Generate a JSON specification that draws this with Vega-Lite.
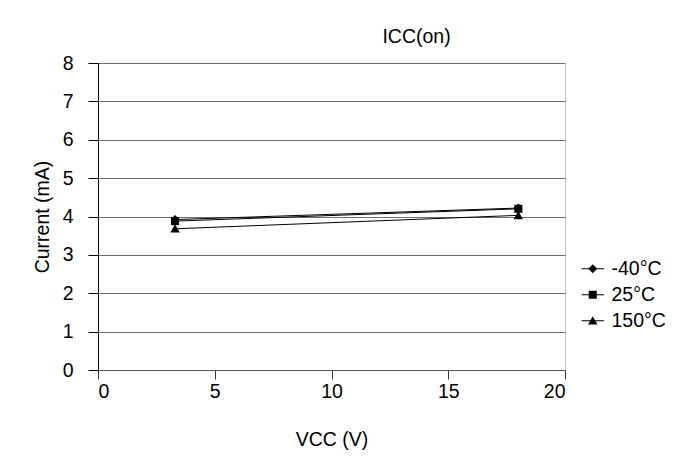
{
  "$schema": "https://vega.github.io/schema/vega-lite/v6.json",
  "width": 467,
  "height": 307,
  "autosize": {"type": "none"},
  "padding": {"left": 98, "top": 63, "right": 124, "bottom": 102},
  "background": "white",
  "title": {
    "text": "ICC(on)",
    "anchor": "middle",
    "dx": 85,
    "offset": 6,
    "fontSize": 19.5,
    "fontWeight": "normal",
    "font": "Liberation Sans",
    "color": "black"
  },
  "data": {
    "values": [
      {"temp": "-40°C", "vcc": 3.3, "current": 3.92},
      {"temp": "-40°C", "vcc": 18, "current": 4.22},
      {"temp": "25°C", "vcc": 3.3, "current": 3.88},
      {"temp": "25°C", "vcc": 18, "current": 4.2},
      {"temp": "150°C", "vcc": 3.3, "current": 3.68},
      {"temp": "150°C", "vcc": 18, "current": 4.03}
    ]
  },
  "encoding": {
    "x": {
      "field": "vcc",
      "type": "quantitative",
      "scale": {"domain": [0, 20], "nice": false, "zero": true},
      "axis": {
        "title": "VCC (V)",
        "values": [0, 5, 10, 15, 20],
        "grid": false,
        "domainColor": "#555555",
        "tickColor": "#333333",
        "tickSize": 9,
        "labelPadding": 3,
        "titlePadding": 30
      }
    },
    "y": {
      "field": "current",
      "type": "quantitative",
      "scale": {"domain": [0, 8], "nice": false},
      "axis": {
        "title": "Current (mA)",
        "values": [0, 1, 2, 3, 4, 5, 6, 7, 8],
        "grid": true,
        "gridColor": "#6e6e6e",
        "gridOpacity": 1,
        "domainColor": "black",
        "tickColor": "black",
        "tickSize": 10,
        "labelPadding": 15,
        "titlePadding": 10
      }
    },
    "detail": {"field": "temp"}
  },
  "layer": [
    {
      "mark": {"type": "line", "color": "black", "strokeWidth": 1}
    },
    {
      "mark": {"type": "point", "filled": true, "color": "black", "opacity": 1, "size": 80},
      "encoding": {
        "shape": {
          "field": "temp",
          "type": "nominal",
          "scale": {
            "domain": ["-40°C", "25°C", "150°C"],
            "range": [
              "M0,-1L1,0L0,1L-1,0Z",
              "M-0.9,-0.9H0.9V0.9H-0.9Z",
              "M0,-1L1.05,0.85H-1.05Z"
            ]
          },
          "legend": null
        }
      }
    },
    {
      "mark": {"type": "point", "filled": true, "color": "black", "opacity": 0, "size": 80},
      "encoding": {
        "shape": {
          "field": "temp",
          "type": "nominal",
          "scale": {
            "domain": ["-40°C", "25°C", "150°C"],
            "range": [
              "M0,-1L1,0L0,1L-1,0Z M-2.5,-0.11H2.5V0.11H-2.5Z",
              "M-0.9,-0.9H0.9V0.9H-0.9Z M-2.5,-0.11H2.5V0.11H-2.5Z",
              "M0,-1L1.05,0.85H-1.05Z M-2.5,-0.11H2.5V0.11H-2.5Z"
            ]
          },
          "legend": {
            "title": null,
            "orient": "none",
            "legendX": 485,
            "legendY": 196,
            "symbolSize": 80,
            "symbolFillColor": "black",
            "symbolOpacity": 1,
            "symbolStrokeWidth": 0,
            "labelOffset": 9,
            "rowPadding": 5,
            "labelFontSize": 19.5,
            "labelFont": "Liberation Sans",
            "labelColor": "black"
          }
        }
      }
    }
  ],
  "resolve": {"scale": {"shape": "independent"}, "legend": {"shape": "independent"}},
  "config": {
    "view": {"stroke": "#c0c0c0", "strokeWidth": 1},
    "axis": {
      "labelFont": "Liberation Sans",
      "titleFont": "Liberation Sans",
      "labelFontSize": 19.5,
      "titleFontSize": 19.5,
      "titleFontWeight": "normal",
      "labelColor": "black",
      "titleColor": "black",
      "domainWidth": 1,
      "tickWidth": 1
    }
  }
}
